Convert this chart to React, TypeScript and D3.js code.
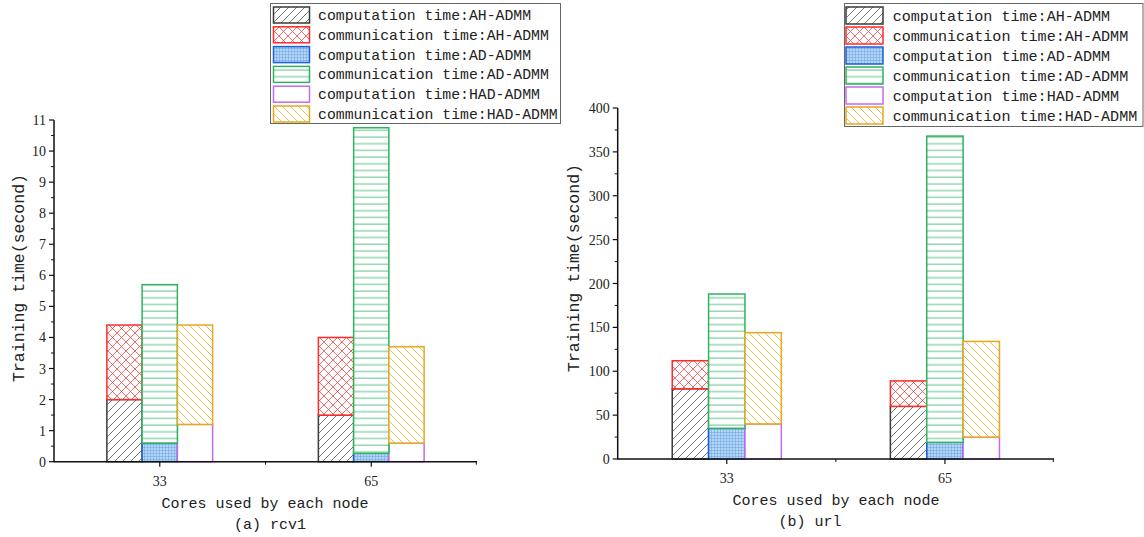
import React from "react";
import * as d3 from "d3";

const categories = ["33", "65"];
const seriesNames = [
  "computation time:AH-ADMM",
  "communication time:AH-ADMM",
  "computation time:AD-ADMM",
  "communication time:AD-ADMM",
  "computation time:HAD-ADMM",
  "communication time:HAD-ADMM",
];

// panel (a) rcv1 — segment values (seconds)
const rcv1AhComp = [2.0, 1.5];
const rcv1AhComm = [2.4, 2.5];
const rcv1AdComp = [0.6, 0.27];
const rcv1AdComm = [5.1, 10.48];
const rcv1HadComp = [1.2, 0.6];
const rcv1HadComm = [3.2, 3.1];
const rcv1Ticks = [0, 1, 2, 3, 4, 5, 6, 7, 8, 9, 10, 11];

// panel (b) url
const urlAhComp = [80, 60];
const urlAhComm = [32, 29];
const urlAdComp = [35, 19];
const urlAdComm = [153, 349];
const urlHadComp = [40, 25];
const urlHadComm = [104, 109];
const urlTicks = [0, 50, 100, 150, 200, 250, 300, 350, 400];

const strokes = ["#3a3a3a", "#ff2a2a", "#1f5fd8", "#2fb35f", "#c46af0", "#e6a91c"];
const fills = ["url(#pSlash)", "url(#pCross)", "url(#pGrid)", "url(#pHoriz)", "#ffffff", "url(#pBack)"];

const MONO = "'Liberation Mono', 'DejaVu Sans Mono', monospace";
const SERIF = "'Liberation Serif', 'DejaVu Serif', serif";

function Patterns() {
  return (
    <defs>
      <pattern id="pSlash" patternUnits="userSpaceOnUse" width="8" height="8">
        <rect width="8" height="8" fill="#fff" />
        <path d="M-2,2 L2,-2 M0,8 L8,0 M6,10 L10,6" stroke="#555" strokeWidth="0.8" />
      </pattern>
      <pattern id="pBack" patternUnits="userSpaceOnUse" width="8" height="8">
        <rect width="8" height="8" fill="#fff" />
        <path d="M-2,6 L2,10 M0,0 L8,8 M6,-2 L10,2" stroke="#e2ab2a" strokeWidth="0.8" />
      </pattern>
      <pattern id="pCross" patternUnits="userSpaceOnUse" width="9" height="9">
        <rect width="9" height="9" fill="#fff" />
        <path d="M0,0 L9,9 M9,0 L0,9" stroke="#f04848" strokeWidth="0.8" />
      </pattern>
      <pattern id="pGrid" patternUnits="userSpaceOnUse" width="3" height="3">
        <rect width="3" height="3" fill="#b6d6f6" />
        <path d="M0.5,0 L0.5,3 M0,0.5 L3,0.5" stroke="#6ea7e6" strokeWidth="0.6" />
      </pattern>
      <pattern id="pHoriz" patternUnits="userSpaceOnUse" width="10" height="6.7">
        <rect width="10" height="6.7" fill="#fff" />
        <path d="M0,3 L10,3" stroke="#5cc488" strokeWidth="1" />
      </pattern>
    </defs>
  );
}

type PanelProps = {
  x0: number; x1: number; y0: number; y1: number; yMax: number;
  ticks: number[]; minorStep: number;
  groups: number[][];
  yTitleX: number; yTitleY: number;
  xTitleX: number; subX: number; subtitle: string; tickLabelDy: number;
  legend: { x: number; y: number; w: number; h: number; sx: number; sw: number; sh: number; step: number; tx: number; fs: number };
};

function Panel(p: PanelProps) {
  const x = d3.scaleLinear().domain([0.5, 2.5]).range([p.x0, p.x1]);
  const y = d3.scaleLinear().domain([0, p.yMax]).range([p.y0, p.y1]);
  const bw = 1 / 6;
  const minor = d3.range(p.minorStep, p.yMax, p.minorStep * 2);
  const bottoms: JSX.Element[] = [];
  const tops: JSX.Element[] = [];
  categories.forEach((c, ci) => {
    const center = ci + 1;
    for (let m = 0; m < 3; m++) {
      const comp = p.groups[m * 2][ci];
      const comm = p.groups[m * 2 + 1][ci];
      const left = x(center - 0.25 + m * bw);
      const right = x(center - 0.25 + (m + 1) * bw);
      bottoms.push(
        <rect key={`b${ci}${m}`} x={left} y={y(comp)} width={right - left}
          height={y(0) - y(comp)} fill={fills[m * 2]} stroke={strokes[m * 2]} strokeWidth={1.5} />
      );
      tops.push(
        <rect key={`t${ci}${m}`} x={left} y={y(comp + comm)} width={right - left}
          height={y(comp) - y(comp + comm)} fill={fills[m * 2 + 1]} stroke={strokes[m * 2 + 1]} strokeWidth={1.5} />
      );
    }
  });
  const L = p.legend;
  return (
    <g>
      {bottoms}
      {tops}
      <line x1={p.x0} x2={p.x0} y1={p.y0 + 0.5} y2={p.y1} stroke="#111" strokeWidth={1.5} />
      {p.ticks.map((t) => (
        <g key={`yt${t}`}>
          <line x1={p.x0 - 5} x2={p.x0} y1={y(t)} y2={y(t)} stroke="#111" strokeWidth={1.2} />
          <text x={p.x0 - 8} y={y(t) + 5} textAnchor="end" fontFamily={SERIF} fontSize={14} fill="#222">{t}</text>
        </g>
      ))}
      {minor.map((t) => (
        <line key={`ym${t}`} x1={p.x0 - 3} x2={p.x0} y1={y(t)} y2={y(t)} stroke="#111" strokeWidth={1} />
      ))}
      <text transform={`translate(${p.yTitleX},${p.yTitleY}) rotate(-90)`} textAnchor="middle"
        fontFamily={MONO} fontSize={16.5} fill="#222" dy="0.35em">Training time(second)</text>
      <line x1={p.x0} x2={p.x1} y1={p.y0} y2={p.y0} stroke="#111" strokeWidth={1.5} />
      {categories.map((c, ci) => (
        <g key={`xt${c}`}>
          <line x1={x(ci + 1)} x2={x(ci + 1)} y1={p.y0} y2={p.y0 + 5} stroke="#111" strokeWidth={1.2} />
          <text x={x(ci + 1)} y={p.y0 + p.tickLabelDy} textAnchor="middle" fontFamily={SERIF} fontSize={14} fill="#222">{c}</text>
        </g>
      ))}
      {[1.5, 2.5].map((v) => (
        <line key={`xm${v}`} x1={x(v) - (v === 2.5 ? 0.7 : 0)} x2={x(v) - (v === 2.5 ? 0.7 : 0)} y1={p.y0} y2={p.y0 + 3} stroke="#111" strokeWidth={1} />
      ))}
      <text x={p.xTitleX} y={p.y0 + 46} textAnchor="middle" fontFamily={MONO} fontSize={15} fill="#222">Cores used by each node</text>
      <text x={p.subX} y={p.y0 + 67} textAnchor="middle" fontFamily={MONO} fontSize={15} fill="#222">{p.subtitle}</text>
      <rect x={L.x} y={L.y} width={L.w} height={L.h} fill="#fff" stroke="#666" strokeWidth={1} />
      {seriesNames.map((s, i) => (
        <g key={s}>
          <rect x={L.sx} y={L.y + 3.5 + i * L.step} width={L.sw} height={L.sh} fill={fills[i]} stroke={strokes[i]} strokeWidth={1.5} />
          <text x={L.tx} y={L.y + 3.5 + i * L.step + L.sh / 2 + 5} fontFamily={MONO} fontSize={L.fs} fill="#222">{s}</text>
        </g>
      ))}
    </g>
  );
}

export default function App() {
  return (
    <svg width={1144} height={537} style={{ position: "absolute", left: 0, top: 0, background: "#fff" }}>
      <Patterns />
      <rect width={1144} height={537} fill="#fff" />
      <Panel x0={54} x1={477} y0={461.7} y1={120} yMax={11} ticks={rcv1Ticks} minorStep={0.5}
        groups={[rcv1AhComp, rcv1AhComm, rcv1AdComp, rcv1AdComm, rcv1HadComp, rcv1HadComm]}
        yTitleX={18} yTitleY={278} xTitleX={265} subX={270} subtitle="(a) rcv1" tickLabelDy={24}
        legend={{ x: 270.5, y: 3.5, w: 290, h: 120, sx: 273.5, sw: 36, sh: 16, step: 19.8, tx: 318, fs: 14.8 }} />
      <Panel x0={617.7} x1={1054} y0={459} y1={108} yMax={400} ticks={urlTicks} minorStep={25}
        groups={[urlAhComp, urlAhComm, urlAdComp, urlAdComm, urlHadComp, urlHadComm]}
        yTitleX={573} yTitleY={268} xTitleX={836} subX={810} subtitle="(b) url" tickLabelDy={24}
        legend={{ x: 844.5, y: 3.5, w: 298.5, h: 123, sx: 846, sw: 37, sh: 17, step: 20, tx: 892.7, fs: 15.1 }} />
    </svg>
  );
}
